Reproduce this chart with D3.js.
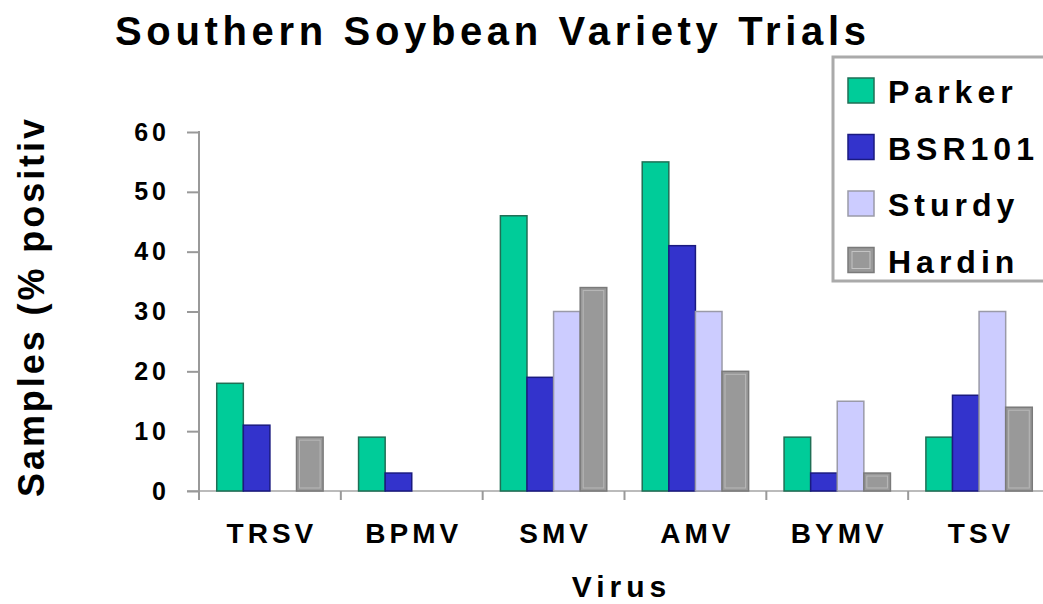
<!DOCTYPE html>
<html>
<head>
<meta charset="utf-8">
<script src="https://cdn.jsdelivr.net/npm/d3@7"></script>
<style>
  body { margin:0; background:#fff; }
  .canvas { width:1043px; height:604px; }
  text { font-family:"Liberation Sans", Arial, sans-serif; font-weight:bold; fill:#000; }
</style>
</head>
<body>
<div class="canvas"></div>
<script>
//data
const viruses = ['TRSV','BPMV','SMV','AMV','BYMV','TSV'];
const varieties = ['Parker','BSR101','Sturdy','Hardin'];
const parker = [18, 9, 46, 55, 9, 9];
const bsr101 = [11, 3, 19, 41, 3, 16];
const sturdy = [0, 0, 30, 30, 15, 30];
const hardin = [9, 0, 34, 20, 3, 14];
const yTicks = [0, 10, 20, 30, 40, 50, 60];

const series = [parker, bsr101, sturdy, hardin];
const fills = ['#00cc99', '#3333cc', '#ccccff', '#999999'];
const strokes = ['#1f6f55', '#1a1a80', '#9a9aa8', '#7a7a7a'];

const W = 1043;
const H = 604;
const m = {t:132, r:-7, b:113, l:199};

var svg = d3.select('.canvas')
	.append('svg')
	.attr('width', W)
	.attr('height', H);

//scales
var x0 = d3.scaleBand()
	.domain(viruses)
	.range([m.l, W - m.r])
	.paddingInner(0.25)
	.paddingOuter(0.125);

var x1 = d3.scaleBand()
	.domain(varieties)
	.range([0, x0.bandwidth()]);

var y = d3.scaleLinear()
	.domain([0, 60])
	.range([H - m.b, m.t]);

var color = d3.scaleOrdinal().domain(varieties).range(fills);
var edge = d3.scaleOrdinal().domain(varieties).range(strokes);

//title
svg.append('text')
	.attr('x', 115)
	.attr('y', 45)
	.attr('font-size', 40)
	.attr('textLength', 751)
	.attr('lengthAdjust', 'spacing')
	.text('Southern Soybean Variety Trials');

//x axis line + category ticks
svg.append('line')
	.attr('x1', 187).attr('x2', W)
	.attr('y1', y(0)).attr('y2', y(0))
	.attr('stroke', '#bbbbbb')
	.attr('stroke-width', 2);

var step = x0.step();
svg.append('g')
	.selectAll('line')
	.data(viruses)
	.enter()
	.append('line')
	.attr('x1', d => x0(d) - step * 0.125)
	.attr('x2', d => x0(d) - step * 0.125)
	.attr('y1', y(0))
	.attr('y2', y(0) + 9)
	.attr('stroke', '#999999')
	.attr('stroke-width', 2);

//category labels
svg.append('g')
	.selectAll('text')
	.data(viruses)
	.enter()
	.append('text')
	.attr('x', d => x0(d) + x0.bandwidth() / 2 + 2)
	.attr('y', 543)
	.attr('font-size', 28)
	.attr('letter-spacing', 4)
	.attr('text-anchor', 'middle')
	.text(d => d);

//y axis
var yAxis = svg.append('g')
	.attr('transform', `translate(${m.l},0)`)
	.call(d3.axisLeft(y).tickValues(yTicks).tickSize(12).tickPadding(17));
yAxis.select('.domain').remove();
yAxis.selectAll('.tick line')
	.attr('stroke', '#999999')
	.attr('stroke-width', 2);
yAxis.selectAll('.tick text')
	.attr('font-size', 25)
	.attr('letter-spacing', 4)
	.attr('font-family', '"Liberation Sans", Arial, sans-serif')
	.attr('fill', '#000');
svg.append('line')
	.attr('x1', m.l).attr('x2', m.l)
	.attr('y1', y(60) - 1).attr('y2', y(0) + 9)
	.attr('stroke', '#999999')
	.attr('stroke-width', 2);

//axis titles
svg.append('text')
	.attr('transform', 'translate(44,308) rotate(-90)')
	.attr('font-size', 36)
	.attr('text-anchor', 'middle')
	.attr('textLength', 378)
	.attr('lengthAdjust', 'spacing')
	.text('Samples (% positiv');

svg.append('text')
	.attr('x', (m.l + W - m.r) / 2 - 3)
	.attr('y', 597)
	.attr('font-size', 30)
	.attr('letter-spacing', 5)
	.attr('text-anchor', 'middle')
	.text('Virus');

//bars
var rows = [];
viruses.forEach((v, i) => {
	varieties.forEach((s, j) => {
		rows.push({virus: v, variety: s, value: series[j][i]});
	});
});

var bars = svg.append('g')
	.selectAll('rect')
	.data(rows.filter(d => d.value > 0))
	.enter()
	.append('rect')
	.attr('x', d => x0(d.virus) + x1(d.variety))
	.attr('y', d => y(d.value))
	.attr('width', x1.bandwidth())
	.attr('height', d => y(0) - y(d.value))
	.attr('fill', d => color(d.variety))
	.attr('stroke', d => edge(d.variety))
	.attr('stroke-width', 1.5);

//inner bevel on the grey bars
svg.append('g')
	.selectAll('rect')
	.data(rows.filter(d => d.value > 0 && d.variety === 'Hardin'))
	.enter()
	.append('rect')
	.attr('x', d => x0(d.virus) + x1(d.variety) + 3)
	.attr('y', d => y(d.value) + 3)
	.attr('width', x1.bandwidth() - 6)
	.attr('height', d => Math.max(0, y(0) - y(d.value) - 6))
	.attr('fill', 'none')
	.attr('stroke', '#b8b8b8')
	.attr('stroke-width', 1);

//legend
var legend = svg.append('g');
legend.append('rect')
	.attr('x', 833)
	.attr('y', 57)
	.attr('width', 240)
	.attr('height', 224)
	.attr('fill', '#fff')
	.attr('stroke', '#aaaaaa')
	.attr('stroke-width', 3);

var item = legend.selectAll('.item')
	.data(varieties)
	.enter()
	.append('g')
	.attr('class', 'item')
	.attr('transform', (d, i) => `translate(848,${78 + i * 56.5})`);

item.append('rect')
	.attr('width', 26)
	.attr('height', 25)
	.attr('fill', d => color(d))
	.attr('stroke', d => edge(d))
	.attr('stroke-width', 1.5);

item.filter(d => d === 'Hardin')
	.append('rect')
	.attr('x', 4).attr('y', 4)
	.attr('width', 18).attr('height', 17)
	.attr('fill', 'none')
	.attr('stroke', '#c4c4c4');

item.append('text')
	.attr('x', 40)
	.attr('y', 25)
	.attr('font-size', 32)
	.attr('letter-spacing', 5)
	.text(d => d);
</script>
</body>
</html>
